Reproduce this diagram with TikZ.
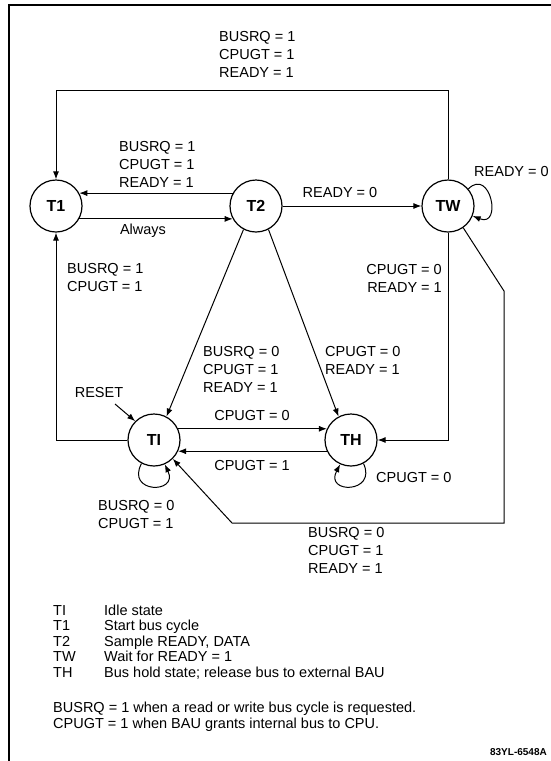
\documentclass[tikz,border=0pt]{standalone}
\usepackage{fontspec}
\setmainfont{Liberation Sans}
\usetikzlibrary{arrows.meta}
\begin{document}
\begin{tikzpicture}[x=1pt,y=-1pt,
  state/.style={circle,draw,line width=1.2pt,minimum size=52pt,inner sep=0pt,font=\fontsize{16}{16}\selectfont\bfseries},
  lbl/.style={inner sep=0pt,align=left,font=\fontsize{14.5}{18}\selectfont},
  leg/.style={inner sep=0pt,anchor=base west,font=\fontsize{14.5}{15}\selectfont},
  conn/.style={line width=1pt,-{Latex[length=8pt,width=6pt]}}]
\useasboundingbox (0,0) rectangle (551,761);
\draw[line width=1.3pt] (9,761) -- (9,5) -- (551,5);
% states
\node[state] (T1) at (56,206) {T1};
\node[state] (T2) at (256,206) {T2};
\node[state] (TW) at (448,206) {TW};
\node[state] (TI) at (154,440) {TI};
\node[state] (TH) at (351,440) {TH};
% helper coordinates
\coordinate (a1) at (448,90);
\coordinate (a2) at (56,90);
\coordinate (b1) at (56,440);
\coordinate (c1) at (448,440);
\coordinate (d1) at (504,291);
\coordinate (d2) at (504,523);
\coordinate (d3) at (232,523);
\coordinate (r1) at (115,404);
% connectors
\draw[conn] (TW.north) -- (a1) -- (a2) -- (T1.north);
\draw[conn] (T2.151) -- (T1.29);
\draw[conn] (T1.-29) -- (T2.-151);
\draw[conn] (T2.east) -- (TW.west);
\draw[conn] (TW.40) .. controls +(22,-22) and +(30,12) .. (TW.-22);
\draw[conn] (TI.west) -- (b1) -- (T1.south);
\draw[conn] (T2.-118) -- (TI.62);
\draw[conn] (T2.-62) -- (TH.118);
\draw[conn] (TW.south) -- (c1) -- (TH.east);
\draw[conn] (TW.-55) -- (d1) -- (d2) -- (d3) -- (TI.-45);
\draw[conn] (TI.25) -- (TH.155);
\draw[conn] (TH.-155) -- (TI.-25);
\draw[conn] (TI.-118) .. controls +(-16,30) and +(14,30) .. (TI.-66);
\draw[conn] (TH.-62) .. controls +(14,30) and +(-16,30) .. (TH.-114);
\draw[conn] (r1) -- (TI.135);
% labels
\node[lbl,anchor=west] (L1) at (219,54) {BUSRQ = 1\\CPUGT = 1\\READY = 1};
\node[lbl,anchor=west] (L2) at (119,164) {BUSRQ = 1\\CPUGT = 1\\READY = 1};
\node[lbl] (L3) at (143,231) {Always};
\node[lbl] (L4) at (340,193) {READY = 0};
\node[lbl,anchor=west] (L5) at (474,172) {READY = 0};
\node[lbl,anchor=west] (L6) at (67,278) {BUSRQ = 1\\CPUGT = 1};
\node[lbl,anchor=east,align=right] (L7) at (442,278) {CPUGT = 0\\READY = 1};
\node[lbl,anchor=west] (L8) at (203,369) {BUSRQ = 0\\CPUGT = 1\\READY = 1};
\node[lbl,anchor=west] (L9) at (325,360) {CPUGT = 0\\READY = 1};
\node[lbl] (L10) at (99,393) {RESET};
\node[lbl] (L11) at (252,416) {CPUGT = 0};
\node[lbl] (L12) at (252,466) {CPUGT = 1};
\node[lbl,anchor=west] (L13) at (376,478) {CPUGT = 0};
\node[lbl,anchor=west] (L14) at (98,515) {BUSRQ = 0\\CPUGT = 1};
\node[lbl,anchor=west] (L15) at (308,550) {BUSRQ = 0\\CPUGT = 1\\READY = 1};
% legend
\node[leg] (k1) at (53,615) {TI};
\node[leg] (v1) at (104,615) {Idle state};
\node[leg] (k2) at (53,630.5) {T1};
\node[leg] (v2) at (104,630.5) {Start bus cycle};
\node[leg] (k3) at (53,646) {T2};
\node[leg] (v3) at (104,646) {Sample READY, DATA};
\node[leg] (k4) at (53,661.5) {TW};
\node[leg] (v4) at (104,661.5) {Wait for READY = 1};
\node[leg] (k5) at (53,677) {TH};
\node[leg] (v5) at (104,677) {Bus hold state; release bus to external BAU};
\node[leg] (n1) at (53,712) {BUSRQ = 1 when a read or write bus cycle is requested.};
\node[leg] (n2) at (53,728) {CPUGT = 1 when BAU grants internal bus to CPU.};
\node[inner sep=0pt,anchor=base east,font=\fontsize{10}{10}\selectfont\bfseries] (id) at (547,755) {83YL-6548A};
\end{tikzpicture}
\end{document}
